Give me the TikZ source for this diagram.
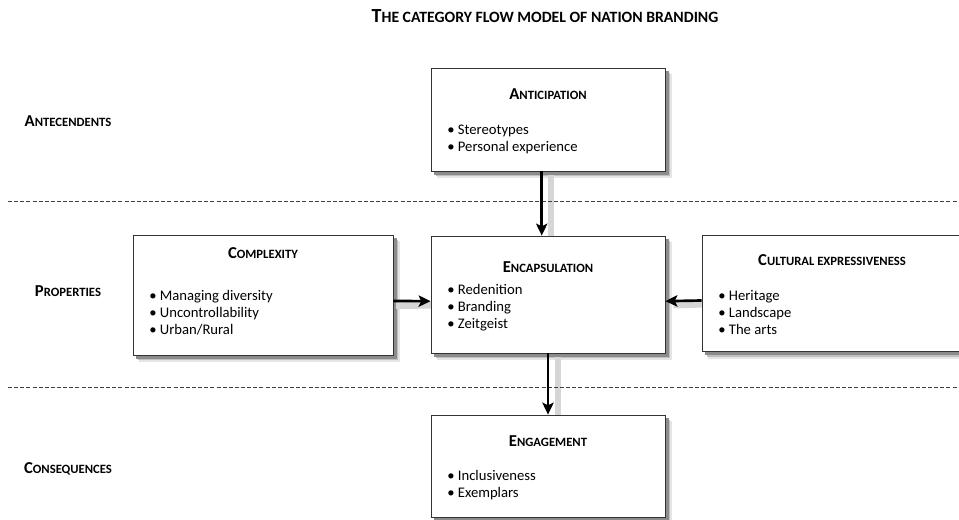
\documentclass[tikz,border=0pt]{standalone}
\usepackage{fontspec}
\setmainfont{Carlito}
\usepackage{tikz}
\usetikzlibrary{arrows.meta,backgrounds}

% first letter large, rest as small capitals
\newcommand{\capsc}[2]{#1{\fontsize{9.5}{12}\selectfont #2}}
\newcommand{\bigcapsc}[2]{#1{\fontsize{11.8}{14}\selectfont #2}}

\tikzset{
  catbox/.style={draw=black!80, line width=0.6pt, fill=white, rectangle, inner sep=0pt},
  cattitle/.style={inner sep=0.75pt, font=\fontsize{12.5}{14}\selectfont\bfseries},
  catlist/.style={inner sep=0.75pt, anchor=west, align=left, font=\fontsize{11}{12.75}\selectfont},
  rowlabel/.style={inner sep=0.75pt, font=\fontsize{12.5}{14}\selectfont\bfseries},
  flow/.style={line width=2pt, -{Stealth[length=9pt, width=8.5pt, inset=2pt]}},
  flowshadow/.style={draw=black!16, line width=5pt},
  rowline/.style={draw=black!75, line width=0.6pt, dash pattern=on 3pt off 1.6pt}
}

\begin{document}
\begin{tikzpicture}[x=0.75pt,y=0.75pt,yscale=-1,xscale=1]
\useasboundingbox (0,0) rectangle (959,520);

% Title
\draw (545,16) node [cattitle, font=\fontsize{15}{17}\selectfont\bfseries] (title) {\bigcapsc{T}{HE CATEGORY FLOW MODEL OF NATION BRANDING}};

%Straight Lines (row separators)
\draw [rowline] (8,201.5) -- (959,201.5) ;
\draw [rowline] (8,387.5) -- (959,387.5) ;

% Row labels
\draw (68,121) node [rowlabel] (lantec) {\capsc{A}{NTECENDENTS}};
\draw (68,291) node [rowlabel] (lprop) {\capsc{P}{ROPERTIES}};
\draw (68,469) node [rowlabel] (lconseq) {\capsc{C}{ONSEQUENCES}};

%Shape: Rectangles
\node [catbox, minimum width=175.5pt, minimum height=77.25pt] (antic) at (548,119.5) {};
\node [catbox, minimum width=195pt, minimum height=90pt] (compl) at (263,295) {};
\node [catbox, minimum width=175.5pt, minimum height=87.75pt] (encap) at (548,294.5) {};
\node [catbox, minimum width=195pt, minimum height=87pt] (cultu) at (832,293.5) {};
\node [catbox, minimum width=175.5pt, minimum height=76.5pt] (engag) at (548,466) {};

% Text Node
\draw (548,94) node [cattitle] (tantic) {\capsc{A}{NTICIPATION}};
\draw (446,139.5) node [catlist] (iantic) {\textbullet\ Stereotypes\\ \textbullet\ Personal experience};
% Text Node
\draw (263,253) node [cattitle] (tcompl) {\capsc{C}{OMPLEXITY}};
\draw (148,313) node [catlist] (icompl) {\textbullet\ Managing diversity\\ \textbullet\ Uncontrollability\\ \textbullet\ Urban/Rural};
% Text Node
\draw (548,267) node [cattitle] (tencap) {\capsc{E}{NCAPSULATION}};
\draw (446,308) node [catlist] (iencap) {\textbullet\ Redenition\\ \textbullet\ Branding\\ \textbullet\ Zeitgeist};
% Text Node
\draw (832,260) node [cattitle] (tcultu) {\capsc{C}{ULTURAL EXPRESSIVENESS}};
\draw (717,313) node [catlist] (icultu) {\textbullet\ Heritage\\ \textbullet\ Landscape\\ \textbullet\ The arts};
% Text Node
\draw (548,441) node [cattitle] (tengag) {\capsc{E}{NGAGEMENT}};
\draw (446,485.5) node [catlist] (iengag) {\textbullet\ Inclusiveness\\ \textbullet\ Exemplars};

%Straight Lines (flows)
\draw [flow] ([xshift=-4.7pt]antic.south) -- ([xshift=-4.7pt]encap.north) ;
\draw [flow] ([yshift=4.5pt]compl.east) -- ([yshift=5pt]encap.west) ;
\draw [flow] ([yshift=5.25pt]cultu.west) -- ([yshift=5pt]encap.east) ;
\draw [flow] (encap.south) -- (engag.north) ;

% Shadows (shifts are in the flipped y system)
\begin{scope}[on background layer]
\foreach \b in {antic,compl,encap,cultu,engag} {
  \fill [black!10] ([xshift=5pt,yshift=5pt]\b.north west) rectangle ([xshift=5pt,yshift=5pt]\b.south east);
  \fill [black!25] ([xshift=3.8pt,yshift=3.8pt]\b.north west) rectangle ([xshift=3.8pt,yshift=3.8pt]\b.south east);
  \fill [black!45] ([xshift=2.6pt,yshift=2.6pt]\b.north west) rectangle ([xshift=2.6pt,yshift=2.6pt]\b.south east);
}
\draw [flowshadow] ([xshift=2.3pt,yshift=3pt]antic.south) -- ([xshift=2.3pt,yshift=9pt]encap.north) ;
\draw [flowshadow] ([xshift=2pt,yshift=8pt]compl.east) -- ([xshift=6pt,yshift=8pt]encap.west) ;
\draw [flowshadow] ([xshift=2pt,yshift=8pt]cultu.west) -- ([xshift=6pt,yshift=8pt]encap.east) ;
\draw [flowshadow] ([xshift=7.5pt,yshift=3pt]encap.south) -- ([xshift=7.5pt,yshift=9pt]engag.north) ;
\end{scope}

\end{tikzpicture}
\end{document}
